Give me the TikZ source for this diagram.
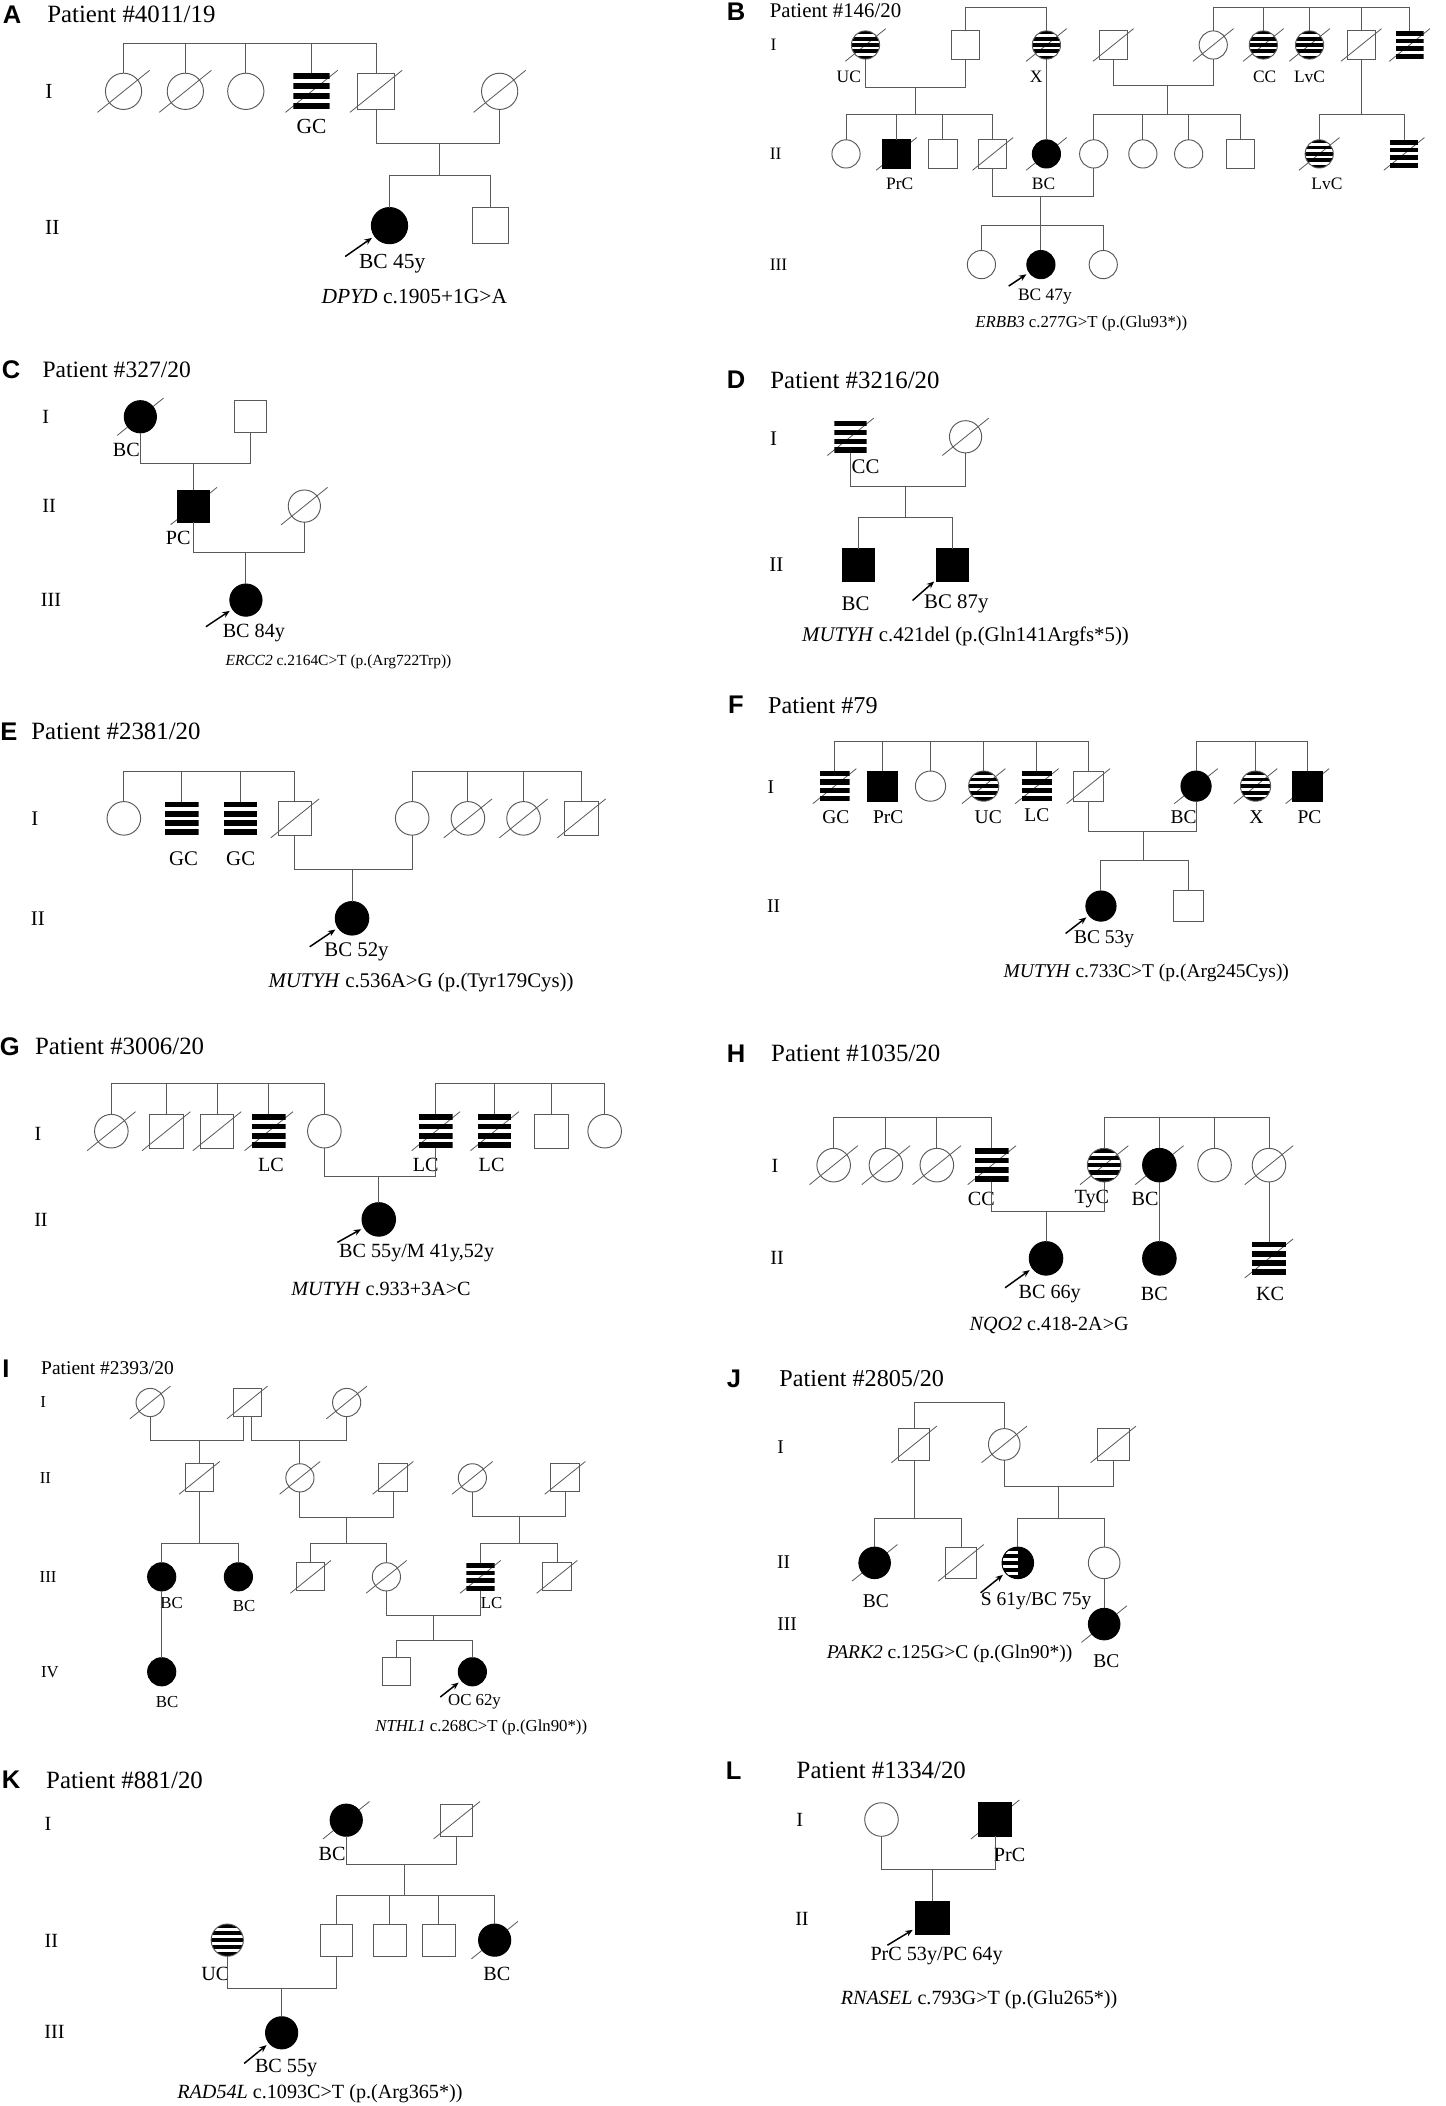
\documentclass[tikz,border=0pt]{standalone}
\usepackage{fontspec}
\setmainfont{Liberation Serif}
\newfontfamily\hv{Liberation Sans}
\usetikzlibrary{calc,arrows.meta}
\newcommand\Pfs[1]{\fontsize{#1}{#1}\selectfont}
\newcommand\Pdec[1]{\draw[slash] ($(#1)+(-0.72*\symsz,0.58*\symsz)$) -- ($(#1)+(0.72*\symsz,-0.58*\symsz)$);}
\newcommand\Psym[4]{\node[#1] (#2) at (#3,#4) {};}
\newcommand\Pdsym[4]{\Pdec{#3,#4}\node[#1] (#2) at (#3,#4) {};}
\newcommand\Psib[3]{\draw[ln] (#2.north) -- (#2.north |- 0,#1) -- (#3.north |- 0,#1) -- (#3.north);}
\newcommand\Pdr[2]{\draw[ln] (#1.north) -- (#1.north |- 0,#2);}
\newcommand\Pmar[3]{\draw[ln] (#1.south) -- (#1.south |- 0,#3) -- (#2.south |- 0,#3) -- (#2.south);}
\def\symsz{25}\def\ftit{\Pfs{18}}\def\flab{\Pfs{15}}\def\fgene{\Pfs{15}}
\tikzset{
 ln/.style={draw=black!65, line width=0.7pt},
 slash/.style={draw=black!65, line width=0.6pt},
 sym/.style={draw=black!65, line width=0.7pt, inner sep=0pt, outer sep=0pt},
 fem/.style={sym, circle, minimum size=\symsz pt},
 mal/.style={sym, rectangle, minimum size=\symsz pt},
 aff/.style={fill=black, draw=black},
 strF/.style={path picture={\foreach \a/\b in {0/0.124,0.219/0.343,0.438/0.562,0.657/0.781,0.876/1}{\fill[black] ($(path picture bounding box.north west)!\a!(path picture bounding box.south west)$) rectangle ($(path picture bounding box.north east)!\b!(path picture bounding box.south east)$);}}},
 strM/.style={draw=none, path picture={\foreach \a/\b in {0/0.17,0.2767/0.4467,0.5533/0.7233,0.83/1}{\fill[black] ($(path picture bounding box.north west)!\a!(path picture bounding box.south west)$) rectangle ($(path picture bounding box.north east)!\b!(path picture bounding box.south east)$);}}},
 half/.style={fill=black, draw=black, path picture={\foreach \a/\b in {0.124/0.219,0.343/0.438,0.562/0.657,0.781/0.876}{\fill[white] ($(path picture bounding box.north west)!\a!(path picture bounding box.south west)$) rectangle ($(path picture bounding box.north)!\b!(path picture bounding box.south)$);}}},
 arr/.style={-{Stealth[length=5.5pt,width=4.5pt]}, line width=1.1pt, black, shorten >=2.5pt},
 letter/.style={font=\hv\bfseries\Pfs{19}, inner sep=0pt},
 title/.style={font=\ftit, anchor=west, inner sep=0pt},
 lab/.style={font=\flab, inner sep=0pt},
 gen/.style={font=\flab, inner sep=0pt},
 gene/.style={font=\fgene, inner sep=0pt},
}
\begin{document}
\begin{tikzpicture}[x=1pt,y=-1pt]
\fill[white] (0,0) rectangle (1076,1568);
\useasboundingbox (0,0) rectangle (1076,1568);

% ---------------- A
\begin{scope}
\def\symsz{27}\def\ftit{\Pfs{18.5}}\def\flab{\Pfs{16}}\def\fgene{\Pfs{16}}
\node[letter] (LA) at (9,11) {A};
\node[title] (TA) at (35,11) {Patient \#4011/19};
\node[gen] (gA1) at (36.5,68) {I};
\node[gen] (gA2) at (39,169) {II};
\Pdsym{fem}{A1}{92}{68}
\Pdsym{fem}{A2}{138}{68}
\Psym{fem}{A3}{183}{68}
\Pdsym{mal,strM}{A4}{232}{68}
\Pdsym{mal}{A5}{280}{68}
\Pdsym{fem}{A6}{372}{68}
\Psib{32}{A1}{A5}
\foreach \n in {A2,A3,A4}{\Pdr{\n}{32}}
\node[lab] (lA4) at (232,94) {GC};
\Pmar{A5}{A6}{107}
\coordinate (mA) at (327,107);
\draw[ln] (mA) -- (mA |- 0,131);
\Psym{fem,aff}{A7}{290}{168}
\Psym{mal}{A8}{365}{168}
\Psib{131}{A7}{A8}
\coordinate (aA) at (257,191);
\draw[arr] (aA) -- (A7);
\node[lab] (pA) at (292,196) {BC 45y};
\node[gene] (vA) at (308.5,221) {\textit{DPYD} c.1905+1G>A};
\end{scope}

% ---------------- B
\begin{scope}
\def\symsz{21}\def\ftit{\Pfs{15.5}}\def\flab{\Pfs{13}}\def\fgene{\Pfs{12.5}}
\node[letter] (LB) at (548,9) {B};
\node[title] (TB) at (573,8) {Patient \#146/20};
\node[gen] (gB1) at (576,33.5) {I};
\node[gen] (gB2) at (577.5,114.6) {II};
\node[gen] (gB3) at (579.6,197) {III};
\Pdsym{fem,strF}{B1}{644.4}{33.5}
\Psym{mal}{B2}{718.9}{33.5}
\Pdsym{fem,strF}{B3}{779.1}{33.5}
\Pdsym{mal}{B4}{828.9}{33.5}
\Pdsym{fem}{B5}{903.3}{33.5}
\Pdsym{fem,strF}{B6}{940.6}{33.5}
\Pdsym{fem,strF}{B7}{975}{33.5}
\Pdsym{mal}{B8}{1013.5}{33.5}
\Pdsym{mal,strM}{B9}{1049.5}{33.5}
\Psib{5.5}{B2}{B3}
\Psib{5.5}{B5}{B9}
\foreach \n in {B6,B7,B8}{\Pdr{\n}{5.5}}
\node[lab] (lB1) at (632,57) {UC};
\node[lab] (lB3) at (771.5,57) {X};
\node[lab] (lB6) at (941.6,57) {CC};
\node[lab] (lB7) at (975,57) {LvC};
\Pmar{B1}{B2}{65}
\coordinate (mB1) at (681.7,65);
\draw[ln] (mB1) -- (mB1 |- 0,85.6);
\Pmar{B4}{B5}{64}
\coordinate (mB2) at (869.5,64);
\draw[ln] (mB2) -- (mB2 |- 0,85.6);
\draw[ln] (B8.south) -- (B8.south |- 0,85.6);
\Psym{fem}{B10}{629.9}{114.6}
\Pdsym{mal,aff}{B11}{667.4}{114.6}
\Psym{mal}{B12}{702}{114.6}
\Pdsym{mal}{B13}{739.2}{114.6}
\Pdsym{fem,aff}{B14}{779.1}{114.6}
\Psym{fem}{B15}{814.3}{114.6}
\Psym{fem}{B16}{850.9}{114.6}
\Psym{fem}{B17}{885}{114.6}
\Psym{mal}{B18}{923.6}{114.6}
\Pdsym{fem,strF}{B19}{982.2}{114.6}
\Pdsym{mal,strM}{B20}{1045.4}{114.6}
\Psib{85.6}{B10}{B13}
\foreach \n in {B11,B12}{\Pdr{\n}{85.6}}
\draw[ln] (B3.south) -- (B14.north);
\Psib{85.6}{B15}{B18}
\foreach \n in {B16,B17}{\Pdr{\n}{85.6}}
\Psib{85.6}{B19}{B20}
\node[lab] (lB11) at (669.8,137) {PrC};
\node[lab] (lB14) at (777,137) {BC};
\node[lab] (lB19) at (987.9,137) {LvC};
\Pmar{B13}{B15}{146}
\coordinate (mB3) at (775,146);
\draw[ln] (mB3) -- (mB3 |- 0,168);
\Psym{fem}{B21}{730.7}{197}
\Psym{fem,aff}{B22}{775}{197}
\Psym{fem}{B23}{821.4}{197}
\Psib{168}{B21}{B23}
\Pdr{B22}{168}
\coordinate (aB) at (751,213);
\draw[arr] (aB) -- (B22);
\node[lab] (pB) at (778,221) {BC 47y};
\node[gene] (vB) at (805,240.7) {\textit{ERBB3} c.277G>T (p.(Glu93*))};
\end{scope}

% ---------------- C
\begin{scope}
\def\symsz{24}\def\ftit{\Pfs{17.5}}\def\flab{\Pfs{15}}\def\fgene{\Pfs{11.5}}
\node[letter] (LC) at (8.3,275.5) {C};
\node[title] (TC) at (31.5,275.5) {Patient \#327/20};
\node[gen] (gC1) at (34,310.3) {I};
\node[gen] (gC2) at (36.5,376.8) {II};
\node[gen] (gC3) at (38,446.8) {III};
\Pdsym{fem,aff}{C1}{104.5}{310.3}
\Psym{mal}{C2}{186.5}{310.3}
\node[lab] (lC1) at (94,335) {BC};
\Pmar{C1}{C2}{345}
\Pdsym{mal,aff}{C3}{144.3}{376.8}
\Pdsym{fem}{C4}{226.6}{376.8}
\draw[ln] (C3.north |- 0,345) -- (C3.north);
\node[lab] (lC3) at (132.7,400.8) {PC};
\Pmar{C3}{C4}{411.3}
\Psym{fem,aff}{C5}{183.1}{446.8}
\draw[ln] (C5.north |- 0,411.3) -- (C5.north);
\coordinate (aC) at (153.3,466.6);
\draw[arr] (aC) -- (C5);
\node[lab] (pC) at (189,471.6) {BC 84y};
\node[gene] (vC) at (252,493) {\textit{ERCC2} c.2164C>T (p.(Arg722Trp))};
\end{scope}

% ---------------- D
\begin{scope}
\def\symsz{24}\def\ftit{\Pfs{18.5}}\def\flab{\Pfs{15.5}}\def\fgene{\Pfs{15.5}}
\node[letter] (LD) at (548,283) {D};
\node[title] (TD) at (573.4,283) {Patient \#3216/20};
\node[gen] (gD1) at (576,326.4) {I};
\node[gen] (gD2) at (578,420.7) {II};
\Pdsym{mal,strM}{D1}{633.3}{325.2}
\Pdsym{fem}{D2}{718.9}{325.2}
\node[lab] (lD1) at (644.4,347.5) {CC};
\Pmar{D1}{D2}{362.4}
\coordinate (mD) at (673.9,362.4);
\draw[ln] (mD) -- (mD |- 0,385.5);
\Psym{mal,aff}{D3}{639.3}{420.7}
\Psym{mal,aff}{D4}{709.4}{420.7}
\Psib{385.5}{D3}{D4}
\node[lab] (lD3) at (637,449.6) {BC};
\node[lab] (pD) at (712,449.6) {BC 87y};
\coordinate (aD) at (679.4,447.1);
\draw[arr] (aD) -- (D4);
\node[gene] (vD) at (718.9,473.9) {\textit{MUTYH} c.421del (p.(Gln141Argfs*5))};
\end{scope}

% ---------------- E
\begin{scope}
\def\symsz{25}\def\ftit{\Pfs{18.5}}\def\flab{\Pfs{15.5}}\def\fgene{\Pfs{15.5}}
\node[letter] (LE) at (6.6,544.8) {E};
\node[title] (TE) at (23.2,544.8) {Patient \#2381/20};
\node[gen] (gE1) at (25.9,609.3) {I};
\node[gen] (gE2) at (28.2,683.7) {II};
\Psym{fem}{E1}{92.2}{609.3}
\Psym{mal,strM}{E2}{135.4}{609.3}
\Psym{mal,strM}{E3}{179.2}{609.3}
\Pdsym{mal}{E4}{219.6}{609.3}
\Psym{fem}{E5}{306.9}{609.3}
\Pdsym{fem}{E6}{348.4}{609.3}
\Pdsym{fem}{E7}{389.8}{609.3}
\Pdsym{mal}{E8}{433}{609.3}
\Psib{574.6}{E1}{E4}
\foreach \n in {E2,E3}{\Pdr{\n}{574.6}}
\Psib{574.6}{E5}{E8}
\foreach \n in {E6,E7}{\Pdr{\n}{574.6}}
\node[lab] (lE2) at (136.7,639.1) {GC};
\node[lab] (lE3) at (179.2,639.1) {GC};
\Pmar{E4}{E5}{647.1}
\Psym{fem,aff}{E9}{262.1}{683.7}
\draw[ln] (E9.north |- 0,647.1) -- (E9.north);
\coordinate (aE) at (230.6,704.9);
\draw[arr] (aE) -- (E9);
\node[lab] (pE) at (265.4,708.5) {BC 52y};
\node[gene] (vE) at (313.5,731.7) {\textit{MUTYH} c.536A>G (p.(Tyr179Cys))};
\end{scope}

% ---------------- F
\begin{scope}
\def\symsz{22.5}\def\ftit{\Pfs{18}}\def\flab{\Pfs{14.5}}\def\fgene{\Pfs{14.5}}
\node[letter] (LF) at (548,525) {F};
\node[title] (TF) at (571.7,525) {Patient \#79};
\node[gen] (gF1) at (574,585.8) {I};
\node[gen] (gF2) at (576,674.6) {II};
\Pdsym{mal,strM}{F1}{621.4}{585.3}
\Psym{mal,aff}{F2}{657.3}{585.3}
\Psym{fem}{F3}{692.8}{585.3}
\Pdsym{fem,strF}{F4}{732.4}{585.3}
\Pdsym{mal,strM}{F5}{772}{585.3}
\Pdsym{mal}{F6}{810.3}{585.3}
\Pdsym{fem,aff}{F7}{890.5}{585.3}
\Pdsym{fem,strF}{F8}{934.8}{585.3}
\Pdsym{mal,aff}{F9}{973.4}{585.3}
\Psib{552.3}{F1}{F6}
\foreach \n in {F2,F3,F4,F5}{\Pdr{\n}{552.3}}
\Psib{552.3}{F7}{F9}
\Pdr{F8}{552.3}
\node[lab] (lF1) at (622.4,608.1) {GC};
\node[lab] (lF2) at (661.3,608.1) {PrC};
\node[lab] (lF4) at (735.8,608.1) {UC};
\node[lab] (lF5) at (772,606.9) {LC};
\node[lab] (lF7) at (881.3,608.1) {BC};
\node[lab] (lF8) at (935.5,608.1) {X};
\node[lab] (lF9) at (975,608.1) {PC};
\Pmar{F6}{F7}{619.3}
\coordinate (mF) at (851.5,619.3);
\draw[ln] (mF) -- (mF |- 0,640.4);
\Psym{fem,aff}{F10}{819.7}{674.6}
\Psym{mal}{F11}{884.7}{674.6}
\Psib{640.4}{F10}{F11}
\coordinate (aF) at (793.4,695);
\draw[arr] (aF) -- (F10);
\node[lab] (pF) at (822,699.4) {BC 53y};
\node[gene] (vF) at (853.5,724.3) {\textit{MUTYH} c.733C>T (p.(Arg245Cys))};
\end{scope}

% ---------------- G
\begin{scope}
\def\symsz{25}\def\ftit{\Pfs{18.5}}\def\flab{\Pfs{15}}\def\fgene{\Pfs{15}}
\node[letter] (LG) at (7.3,779.4) {G};
\node[title] (TG) at (25.9,779.4) {Patient \#3006/20};
\node[gen] (gG1) at (28.2,843.9) {I};
\node[gen] (gG2) at (30.5,907.9) {II};
\Pdsym{fem}{G1}{82.9}{842.2}
\Pdsym{mal}{G2}{123.8}{842.2}
\Pdsym{mal}{G3}{161.6}{842.2}
\Pdsym{mal,strM}{G4}{200.1}{842.2}
\Psym{fem}{G5}{241.5}{842.2}
\Pdsym{mal,strM}{G6}{324.5}{842.2}
\Pdsym{mal,strM}{G7}{368.3}{842.2}
\Psym{mal}{G8}{410.4}{842.2}
\Psym{fem}{G9}{450.2}{842.2}
\Psib{806.6}{G1}{G5}
\foreach \n in {G2,G3,G4}{\Pdr{\n}{806.6}}
\Psib{806.6}{G6}{G9}
\foreach \n in {G7,G8}{\Pdr{\n}{806.6}}
\node[lab] (lG4) at (201.7,867.5) {LC};
\node[lab] (lG6) at (316.9,867.5) {LC};
\node[lab] (lG7) at (366,867.5) {LC};
\Pmar{G5}{G6}{876.2}
\Psym{fem,aff}{G10}{282}{907.9}
\draw[ln] (G10.north |- 0,876.2) -- (G10.north);
\coordinate (aG) at (251.2,925);
\draw[arr] (aG) -- (G10);
\node[lab] (pG) at (310.2,932.8) {BC 55y/M 41y,52y};
\node[gene] (vG) at (283.7,960) {\textit{MUTYH} c.933+3A>C};
\end{scope}

% ---------------- H
\begin{scope}
\def\symsz{25}\def\ftit{\Pfs{18.5}}\def\flab{\Pfs{15}}\def\fgene{\Pfs{15}}
\node[letter] (LH) at (548,784.3) {H};
\node[title] (TH) at (574,784.3) {Patient \#1035/20};
\node[gen] (gH1) at (577,868.2) {I};
\node[gen] (gH2) at (578.6,936.9) {II};
\Pdsym{fem}{H1}{620.7}{867.5}
\Pdsym{fem}{H2}{659.6}{867.5}
\Pdsym{fem}{H3}{697.5}{867.5}
\Pdsym{mal,strM}{H4}{738.5}{867.5}
\Pdsym{fem,strF}{H5}{822.1}{867.5}
\Pdsym{fem,aff}{H6}{863.2}{867.5}
\Psym{fem}{H7}{904.3}{867.5}
\Pdsym{fem}{H8}{944.8}{867.5}
\Psib{832.2}{H1}{H4}
\foreach \n in {H2,H3}{\Pdr{\n}{832.2}}
\Psib{832.2}{H5}{H8}
\foreach \n in {H6,H7}{\Pdr{\n}{832.2}}
\node[lab] (lH4) at (730.7,893) {CC};
\node[lab] (lH5) at (812.9,893) {TyC};
\node[lab] (lH6) at (852.5,893) {BC};
\Pmar{H4}{H5}{902.2}
\Psym{fem,aff}{H9}{778.8}{936.9}
\draw[ln] (H9.north |- 0,902.2) -- (H9.north);
\Psym{fem,aff}{H10}{863.2}{936.9}
\Pdsym{mal,strM}{H11}{944.8}{936.9}
\draw[ln] (H6.south) -- (H10.north);
\draw[ln] (H8.south) -- (H11.north);
\coordinate (aH) at (748.3,958.8);
\draw[arr] (aH) -- (H9);
\node[lab] (pH) at (781.5,963.5) {BC 66y};
\node[lab] (lH10) at (859.4,963.5) {BC};
\node[lab] (lH11) at (945.6,963.5) {KC};
\node[gene] (vH) at (781.1,987) {\textit{NQO2} c.418-2A>G};
\end{scope}

% ---------------- I
\begin{scope}
\def\symsz{21}\def\ftit{\Pfs{14.5}}\def\flab{\Pfs{12.5}}\def\fgene{\Pfs{12.5}}
\node[letter] (LI) at (4.5,1018.8) {I};
\node[title] (TI) at (30.5,1018.8) {Patient \#2393/20};
\node[gen] (gI1) at (32.2,1043.7) {I};
\node[gen] (gI2) at (33.8,1100.3) {II};
\node[gen] (gI3) at (35.8,1174) {III};
\node[gen] (gI4) at (37.2,1244.8) {IV};
\Pdsym{fem}{I1}{111.8}{1044.2}
\Pdsym{mal}{I2}{184.1}{1044.2}
\Pdsym{fem}{I3}{258.1}{1044.2}
\coordinate (I2l) at ([xshift=-3pt]I2.south);
\coordinate (I2r) at ([xshift=3pt]I2.south);
\draw[ln] (I1.south) -- (I1.south |- 0,1072.2) -- (I2l |- 0,1072.2) -- (I2l);
\draw[ln] (I2r) -- (I2r |- 0,1072.2) -- (I3.south |- 0,1072.2) -- (I3.south);
\Pdsym{mal}{I4}{148.5}{1100.3}
\Pdsym{fem}{I5}{223.3}{1100.3}
\Pdsym{mal}{I6}{292.6}{1100.3}
\Pdsym{fem}{I7}{351.7}{1100.3}
\Pdsym{mal}{I8}{420.7}{1100.3}
\draw[ln] (I4.north |- 0,1072.2) -- (I4.north);
\draw[ln] (I5.north |- 0,1072.2) -- (I5.north);
\draw[ln] (I4.south) -- (I4.south |- 0,1149);
\Pmar{I5}{I6}{1130.1}
\coordinate (mI1) at (257.8,1130.1);
\draw[ln] (mI1) -- (mI1 |- 0,1149);
\Pmar{I7}{I8}{1129.4}
\coordinate (mI2) at (386.5,1129.4);
\draw[ln] (mI2) -- (mI2 |- 0,1149);
\Psym{fem,aff}{I9}{120.4}{1174}
\Psym{fem,aff}{I10}{177.5}{1174}
\Pdsym{mal}{I11}{231.3}{1174}
\Pdsym{fem}{I12}{287.7}{1174}
\Pdsym{mal,strM}{I13}{357.7}{1174}
\Pdsym{mal}{I14}{414.7}{1174}
\Psib{1149}{I9}{I10}
\Psib{1149}{I11}{I12}
\Psib{1149}{I13}{I14}
\node[lab] (lI9) at (127.7,1193.8) {BC};
\node[lab] (lI10) at (181.8,1195.8) {BC};
\node[lab] (lI13) at (366,1193.8) {LC};
\Pmar{I12}{I13}{1202.5}
\coordinate (mI3) at (322.5,1202.5);
\draw[ln] (mI3) -- (mI3 |- 0,1221.1);
\Psym{fem,aff}{I15}{120.4}{1244.7}
\Psym{mal}{I16}{295.3}{1244.7}
\Psym{fem,aff}{I17}{351.7}{1244.7}
\draw[ln] (I9.south) -- (I15.north);
\Psib{1221.1}{I16}{I17}
\node[lab] (lI15) at (124.4,1267.1) {BC};
\node[lab] (pI) at (353.3,1267.1) {OC 62y};
\coordinate (aI) at (327.8,1263.5);
\draw[arr] (aI) -- (I17);
\node[gene] (vI) at (358.3,1286.5) {\textit{NTHL1} c.268C>T (p.(Gln90*))};
\end{scope}

% ---------------- J
\begin{scope}
\def\symsz{23.5}\def\ftit{\Pfs{18}}\def\flab{\Pfs{14.5}}\def\fgene{\Pfs{14.5}}
\node[letter] (LJ) at (546.4,1026.3) {J};
\node[title] (TJ) at (580.1,1026.3) {Patient \#2805/20};
\node[gen] (gJ1) at (581.2,1077.2) {I};
\node[gen] (gJ2) at (583.5,1162.8) {II};
\node[gen] (gJ3) at (586.1,1209.2) {III};
\Pdsym{mal}{J1}{680.6}{1075.4}
\Pdsym{fem}{J2}{747.7}{1075.4}
\Pdsym{mal}{J3}{828.9}{1075.4}
\draw[ln] (J1.north) -- (J1.north |- 0,1044.4) -- (J2.north |- 0,1044.4) -- (J2.north);
\draw[ln] (J1.south) -- (J1.south |- 0,1130.5);
\Pmar{J2}{J3}{1107}
\coordinate (mJ) at (788.2,1107);
\draw[ln] (mJ) -- (mJ |- 0,1130.5);
\Pdsym{fem,aff}{J4}{651.2}{1163.6}
\Pdsym{mal}{J5}{715.5}{1163.6}
\Psym{fem,half}{J6}{757.8}{1163.6}
\Psym{fem}{J7}{822.1}{1163.6}
\Psib{1130.5}{J4}{J5}
\Psib{1130.5}{J6}{J7}
\Pdsym{fem,aff}{J8}{822.1}{1209.2}
\draw[ln] (J7.south) -- (J8.north);
\node[lab] (lJ4) at (652.1,1191.9) {BC};
\node[lab] (pJ) at (771.4,1191.9) {S 61y/BC 75y};
\node[lab] (lJ8) at (823.7,1236.5) {BC};
\coordinate (aJ) at (730.1,1185.9);
\draw[arr] (aJ) -- (J6);
\node[gene] (vJ) at (707,1231) {\textit{PARK2} c.125G>C (p.(Gln90*))};
\end{scope}

% ---------------- K
\begin{scope}
\def\symsz{24}\def\ftit{\Pfs{18.5}}\def\flab{\Pfs{15}}\def\fgene{\Pfs{15}}
\node[letter] (LK) at (8.3,1325.4) {K};
\node[title] (TK) at (34.2,1325.4) {Patient \#881/20};
\node[gen] (gK1) at (35.8,1357.6) {I};
\node[gen] (gK2) at (38.2,1445) {II};
\node[gen] (gK3) at (40.5,1512.8) {III};
\Pdsym{fem,aff}{K1}{257.8}{1355.2}
\Pdsym{mal}{K2}{340.1}{1355.2}
\node[lab] (lK1) at (247.2,1380.5) {BC};
\Pmar{K1}{K2}{1387.9}
\coordinate (mK1) at (301.3,1387.9);
\draw[ln] (mK1) -- (mK1 |- 0,1411);
\Psym{fem,strF}{K3}{169.2}{1444.5}
\Psym{mal}{K4}{250.5}{1444.5}
\Psym{mal}{K5}{290.3}{1444.5}
\Psym{mal}{K6}{326.8}{1444.5}
\Pdsym{fem,aff}{K7}{368.3}{1444.5}
\Psib{1411}{K4}{K7}
\foreach \n in {K5,K6}{\Pdr{\n}{1411}}
\node[lab] (lK3) at (160.3,1469.3) {UC};
\node[lab] (lK7) at (369.9,1469.3) {BC};
\Pmar{K3}{K4}{1480.5}
\Psym{fem,aff}{K8}{209.7}{1513.5}
\draw[ln] (K8.north |- 0,1480.5) -- (K8.north);
\coordinate (aK) at (181.8,1536.3);
\draw[arr] (aK) -- (K8);
\node[lab] (pK) at (213,1540) {BC 55y};
\node[gene] (vK) at (238.2,1558.7) {\textit{RAD54L} c.1093C>T (p.(Arg365*))};
\end{scope}

% ---------------- L
\begin{scope}
\def\symsz{25}\def\ftit{\Pfs{18.5}}\def\flab{\Pfs{15}}\def\fgene{\Pfs{15}}
\node[letter] (LL) at (546.3,1318) {L};
\node[title] (TL) at (593,1318) {Patient \#1334/20};
\node[gen] (gL1) at (595.4,1354.7) {I};
\node[gen] (gL2) at (597.1,1428.4) {II};
\Psym{fem}{L1}{656.3}{1354.7}
\Pdsym{mal,aff}{L2}{740.9}{1354.7}
\node[lab] (lL2) at (751.7,1381.2) {PrC};
\Pmar{L1}{L2}{1391.9}
\Psym{mal,aff}{L3}{694.2}{1427.9}
\draw[ln] (L3.north |- 0,1391.9) -- (L3.north);
\coordinate (aL) at (660.7,1448.3);
\draw[arr] (aL) -- (L3);
\node[lab] (pL) at (697.3,1456.4) {PrC 53y/PC 64y};
\node[gene] (vL) at (729,1488.7) {\textit{RNASEL} c.793G>T (p.(Glu265*))};
\end{scope}
\end{tikzpicture}
\end{document}
